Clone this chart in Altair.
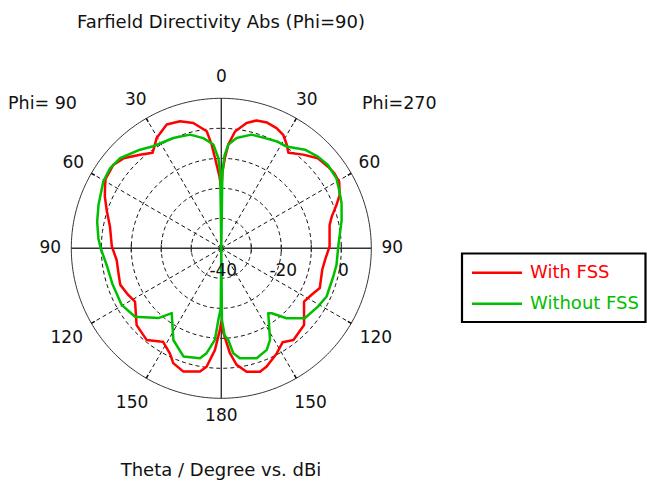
import altair as alt
import pandas as pd

# ---------------- data (theta in degrees, directivity in dBi) ----------------
RED_P90_THETA = [0, 1.5, 4, 5.3, 7.1, 12.6, 18, 23.8, 30.4, 35.7, 41, 47.4, 52.3, 59, 62, 66, 71.5, 79, 89,
                 96.4, 105.6, 109.9, 116.6, 121.7, 132.2, 140.8, 146.7, 148.1, 153.9, 157.3, 162.9, 170.2,
                 172.9, 176.4, 179, 180]
RED_P90_DB = [-20, -16, -9.8, -5.3, -0.7, 2.8, 4.5, 5.1, 2.6, -0.8, 1.3, 4.3, 5.5, 5.0, 3.9, 2.5, 0.3, -2.2, -3.5,
              -4.9, -4.6, -4.2, -5.3, -6.2, -1.9, -0.6, -2.8, -3.3, -1, 1.5, 3, 1.7,
              -0.2, -6, -12.8, -15.5]

RED_P270_THETA = [0, 1.0, 2.3, 3.9, 6.7, 11.4, 15.4, 20, 24.7, 28.6, 32.2, 35.1, 41.2, 47, 52.6, 56.5, 60.6,
                  65.7, 69.4, 74, 78, 89, 96.4, 102, 112, 117.4, 122.8, 132.8, 141.8, 146.9, 152.2, 159,
                  162.6, 168.4, 172.5, 175.3, 178.5, 180]
RED_P270_DB = [-20, -14, -9.8, -5.3, -0.8, 2.6, 4.2, 4.6, 4.1, 3.1, 0.9, -1.1, 1.5, 4, 4.8, 5.2, 5.1,
               3.3, 1, -1.7, -3.1, -3.9, -5.2, -5.6, -4.6, -6.2, -7.2, -2.4, -1.1, -2.6, -0.4, 2.2,
               3.1, 2.0, -0.8, -4.9, -11.7, -15.5]

GREEN_P90_THETA = [0, 0.8, 1.9, 4.4, 9.3, 15.4, 23.5, 33.7, 39.5, 48.4, 54.3, 60.5, 70.6, 78, 85.4, 90,
                   98.4, 108, 119.6, 128.4, 138, 142.6, 152.4, 160.7, 169, 172, 176, 177.6, 179.5, 180]
GREEN_P90_DB = [-40, -15, -9.9, -5.3, -2.8, -0.7, 0.1, 0.9, 2.6, 5.2, 5.7, 5.2, 3.4, 2.3, 1.1, 0.2,
                -1.4, -1.8, -1.8, -3.3, -8.7, -12.8, -5.5, -1.8, -2.7, -4.7, -9.4, -16, -20, -40]

GREEN_P270_THETA = [0, 0.8, 2, 3.9, 7.9, 14.9, 22.6, 28, 32.6, 40.3, 46.5, 52, 58.7, 64.4, 69.5, 76.8, 89,
                    98.2, 104, 114.6, 121.1, 130, 137, 142.2, 144.1, 152, 155.9, 162.2, 170.4, 173.5,
                    175.6, 177.8, 179.5, 180]
GREEN_P270_DB = [-40, -15, -9, -5.3, -2.9, -0.8, -0.4, 0.2, 0.3, 3.1, 4.4, 5.1, 4.9, 3.7, 2.8, 1.2, -1,
                 -1.2, -1.5, -1.4, -2.4, -3.7, -8.1, -12.6, -13.3, -5.4, -2.9, -1.5, -2.8, -4.8,
                 -9.3, -11, -16, -40]

SERIES = ["With FSS", "Without FSS"]
COLORS = ["#FF0000", "#00BE00"]

ANGLE_LABELS = [0, 30, 60, 90, 120, 150, 180]
SPOKE_ANGLES = [30, 60, 120, 150]
RING_DB = [-30, -20, -10, 0]
RADIAL_LABELS = [-40, -20, 0]
DB_MIN, DB_MAX = -40, 10

TITLE = "Farfield Directivity Abs (Phi=90)"
XLABEL = "Theta / Degree vs. dBi"
LEFT_LABEL = "Phi= 90"
RIGHT_LABEL = "Phi=270"

# ---------------- layout ----------------
W, H = 647, 487
CX, CY = 221.3, 248.3
PX = 3.0  # pixels per dB
FONT = "DejaVu Sans"
R_OUT = DB_MAX - DB_MIN

xs = alt.Scale(domain=[-CX / PX, (W - CX) / PX], nice=False, zero=False)
ys = alt.Scale(domain=[-(H - CY) / PX, CY / PX], nice=False, zero=False)


def curve_df(name, th_l, db_l, th_r, db_r):
    rows = []
    k = 0
    for t, d in zip(th_l, db_l):
        rows.append(dict(series=name, side=-1, theta=t, db=d, k=k))
        k += 1
    for t, d in zip(reversed(th_r), reversed(db_r)):
        rows.append(dict(series=name, side=1, theta=t, db=d, k=k))
        k += 1
    return pd.DataFrame(rows)


def polar(chart):
    return chart.transform_calculate(
        r=f"max(datum.db, {DB_MIN}) - ({DB_MIN})"
    ).transform_calculate(
        x="datum.side * datum.r * sin(datum.theta * PI / 180)",
        y="datum.r * cos(datum.theta * PI / 180)",
    )


def curve_layer(df, color):
    return polar(alt.Chart(df)).mark_line(color=color, strokeWidth=2.5, strokeJoin="round").encode(
        x=alt.X("x:Q", scale=xs, axis=None),
        y=alt.Y("y:Q", scale=ys, axis=None),
        order="k:Q",
    )


red = curve_df(SERIES[0], RED_P90_THETA, RED_P90_DB, RED_P270_THETA, RED_P270_DB)
green = curve_df(SERIES[1], GREEN_P90_THETA, GREEN_P90_DB, GREEN_P270_THETA, GREEN_P270_DB)

layers = []

# dashed rings
for db in RING_DB:
    rr = db - DB_MIN
    layers.append(
        alt.Chart(alt.sequence(0, 362, 2, as_="a")).transform_calculate(
            x=f"{rr} * sin(datum.a * PI / 180)", y=f"{rr} * cos(datum.a * PI / 180)"
        ).mark_line(color="#111111", strokeWidth=1, strokeDash=[4, 3]).encode(
            x=alt.X("x:Q", scale=xs, axis=None), y=alt.Y("y:Q", scale=ys, axis=None), order="a:Q"
        )
    )

# outer ring
layers.append(
    alt.Chart(alt.sequence(0, 361, 1, as_="a")).transform_calculate(
        x=f"{R_OUT} * sin(datum.a * PI / 180)", y=f"{R_OUT} * cos(datum.a * PI / 180)"
    ).mark_line(color="#333333", strokeWidth=1).encode(
        x=alt.X("x:Q", scale=xs, axis=None), y=alt.Y("y:Q", scale=ys, axis=None), order="a:Q"
    )
)

# dashed spokes
spokes = pd.DataFrame([dict(a=a, side=s) for a in SPOKE_ANGLES for s in (-1, 1)])
layers.append(
    alt.Chart(spokes).transform_calculate(
        x0="0", y0="0",
        x1=f"datum.side * {R_OUT} * sin(datum.a * PI / 180)",
        y1=f"{R_OUT} * cos(datum.a * PI / 180)",
    ).mark_rule(color="#111111", strokeWidth=1, strokeDash=[4, 3]).encode(
        x=alt.X("x0:Q", scale=xs, axis=None), y=alt.Y("y0:Q", scale=ys, axis=None),
        x2="x1:Q", y2="y1:Q",
    )
)

# small ticks on outer ring at spoke angles
layers.append(
    alt.Chart(spokes).transform_calculate(
        x0=f"datum.side * {R_OUT - 1.3} * sin(datum.a * PI / 180)",
        y0=f"{R_OUT - 1.3} * cos(datum.a * PI / 180)",
        x1=f"datum.side * {R_OUT} * sin(datum.a * PI / 180)",
        y1=f"{R_OUT} * cos(datum.a * PI / 180)",
    ).mark_rule(color="#111111", strokeWidth=1.5).encode(
        x=alt.X("x0:Q", scale=xs, axis=None), y=alt.Y("y0:Q", scale=ys, axis=None),
        x2="x1:Q", y2="y1:Q",
    )
)

# main axes (0-180 and 90-90)
axes_df = pd.DataFrame({"a": [0, 90]})
layers.append(
    alt.Chart(axes_df).transform_calculate(
        x0=f"-{R_OUT} * sin(datum.a * PI / 180)", y0=f"-{R_OUT} * cos(datum.a * PI / 180)",
        x1=f"{R_OUT} * sin(datum.a * PI / 180)", y1=f"{R_OUT} * cos(datum.a * PI / 180)",
    ).mark_rule(color="#333333", strokeWidth=1.4).encode(
        x=alt.X("x0:Q", scale=xs, axis=None), y=alt.Y("y0:Q", scale=ys, axis=None),
        x2="x1:Q", y2="y1:Q",
    )
)

# ticks on horizontal axis
ticks_df = pd.DataFrame([dict(db=d, side=s) for d in RING_DB for s in (-1, 1)])
layers.append(
    alt.Chart(ticks_df).transform_calculate(
        x0=f"datum.side * (datum.db - ({DB_MIN}))", ya="-1.3", yb="1.3"
    ).mark_rule(color="#333333", strokeWidth=1.2).encode(
        x=alt.X("x0:Q", scale=xs, axis=None), y=alt.Y("ya:Q", scale=ys, axis=None), y2="yb:Q"
    )
)

# curves: red first, green on top
layers.append(curve_layer(red, COLORS[0]))
layers.append(curve_layer(green, COLORS[1]))

# angle labels
alab = pd.DataFrame([dict(label=a, side=s) for a in ANGLE_LABELS for s in ((1,) if a in (0, 180) else (-1, 1))])
layers.append(
    alt.Chart(alab).transform_calculate(
        rl="datum.label == 180 ? 55.8 : (datum.label >= 100 ? 59.5 : 57)"
    ).transform_calculate(
        x="datum.side * datum.rl * sin(datum.label * PI / 180)",
        y="datum.rl * cos(datum.label * PI / 180)",
        t="'' + datum.label",
    ).mark_text(font=FONT, fontSize=17, color="#111111", align="center", baseline="middle").encode(
        x=alt.X("x:Q", scale=xs, axis=None), y=alt.Y("y:Q", scale=ys, axis=None), text="t:N"
    )
)

# radial labels
rlab = pd.DataFrame({"db": RADIAL_LABELS})
layers.append(
    alt.Chart(rlab).transform_calculate(
        x=f"datum.db - ({DB_MIN})", y="0", t="'' + datum.db"
    ).mark_text(font=FONT, fontSize=17, color="#111111", align="center", baseline="middle", dy=23, dx=2).encode(
        x=alt.X("x:Q", scale=xs, axis=None), y=alt.Y("y:Q", scale=ys, axis=None), text="t:N"
    )
)

# titles / side labels
def text_layer(txt, x, y, align="center", size=17):
    return alt.Chart(pd.DataFrame({"t": [txt]})).mark_text(
        font=FONT, fontSize=size, color="#111111", align=align, baseline="middle", x=x, y=y
    ).encode(text="t:N")


layers.append(text_layer(TITLE, 221, 23, size=18))
layers.append(text_layer(LEFT_LABEL, 8, 104, align="left", size=17.5))
layers.append(text_layer(RIGHT_LABEL, 362, 104, align="left", size=17.5))
layers.append(text_layer(XLABEL, 221, 471, size=18))

# legend box
layers.append(
    alt.Chart(pd.DataFrame({"a": [0]})).mark_rect(
        fill="white", stroke="black", strokeWidth=2.2, x=462, x2=645.5, y=253.5, y2=322
    ).encode(opacity=alt.value(1))
)
for i, (name, col) in enumerate(zip(SERIES, COLORS)):
    yy = 272.7 + i * 31
    layers.append(
        alt.Chart(pd.DataFrame({"s": [name]})).mark_rule(color=col, strokeWidth=2.5).encode(
            x=alt.value(472), x2=alt.value(522), y=alt.value(yy)
        )
    )
    layers.append(
        alt.Chart(pd.DataFrame({"s": [name]})).mark_text(
            font=FONT, fontSize=18, color=col, align="left", baseline="middle", x=530, y=yy
        ).encode(text="s:N")
    )

chart = alt.layer(*layers).properties(
    width=W, height=H, autosize=alt.AutoSizeParams(type="none"), padding=0, background="white"
).configure_view(stroke=None)

chart.save("out.html", embed_options={"renderer": "svg", "actions": False})
